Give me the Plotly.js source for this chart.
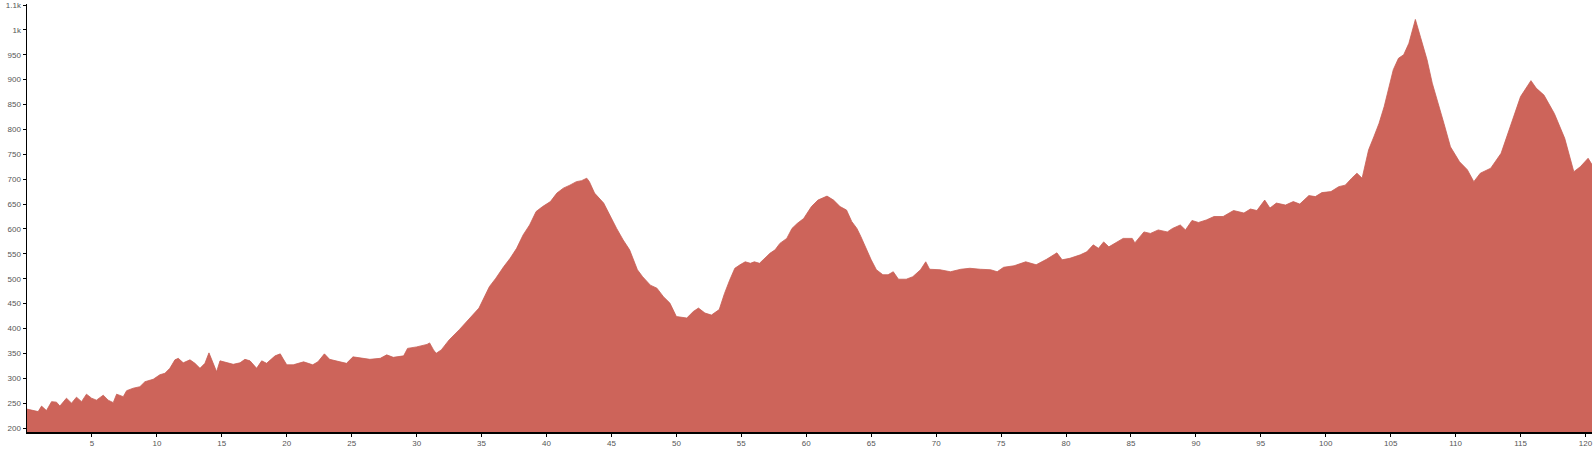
<!DOCTYPE html>
<html>
<head>
<meta charset="utf-8">
<script src="https://cdn.plot.ly/plotly-3.0.1.min.js"></script>
<style>
html,body{margin:0;padding:0;background:#fff;}
#chart{width:1595px;height:449px;}
</style>
</head>
<body>
<div id="chart"></div>
<script>
const distanceKm = [
0.0,0.4,0.86,1.12,1.5,1.89,2.27,2.53,3.04,3.43,3.81,4.2,4.58,4.97,5.35,5.87,6.25,6.64,6.9,7.41,
7.67,8.18,8.69,9.08,9.72,10.23,10.62,11.0,11.39,11.65,12.03,12.55,12.93,13.32,13.7,14.01,14.35,14.6,14.86,15.37,
15.88,16.4,16.78,17.17,17.68,18.07,18.45,19.1,19.5,19.7,20.0,20.5,21.3,22.0,22.4,22.9,23.3,24.1,24.6,25.1,
25.9,26.4,27.2,27.7,28.2,29.0,29.3,30.0,30.8,31.0,31.3,31.5,31.9,32.5,33.3,34.1,34.8,35.6,36.1,36.7,
37.2,37.7,38.2,38.7,39.2,39.7,40.3,40.8,41.3,41.8,42.3,42.7,43.1,43.3,43.7,44.4,44.9,45.4,45.9,46.4,
47.0,47.4,48.0,48.5,49.0,49.5,50.0,50.8,51.3,51.7,52.2,52.7,53.3,53.7,54.1,54.5,54.9,55.3,55.7,56.0,
56.4,56.8,57.2,57.6,57.97,58.5,58.9,59.3,59.8,60.4,60.9,61.6,62.1,62.6,63.1,63.5,63.9,64.2,64.6,65.0,
65.4,65.9,66.3,66.7,67.1,67.7,68.2,68.8,69.2,69.5,70.3,71.1,71.9,72.6,73.4,74.2,74.7,75.2,76.0,76.9,
77.7,78.5,79.3,79.7,80.3,81.1,81.6,82.1,82.5,82.9,83.3,83.9,84.4,85.1,85.3,86.0,86.5,87.1,87.8,88.2,
88.8,89.2,89.7,90.2,90.8,91.4,92.1,92.9,93.7,94.2,94.7,95.3,95.7,96.2,96.9,97.5,98.0,98.7,99.2,99.7,
100.4,101.0,101.5,102.0,102.4,102.8,103.1,103.3,103.7,104.1,104.5,104.8,105.2,105.6,106.0,106.4,106.9,107.3,107.8,108.2,
108.6,109.1,109.6,110.3,110.9,111.4,111.9,112.7,113.5,114.2,115.0,115.8,116.2,116.8,117.6,118.4,119.1,119.6,120.2,120.6
];
const elevationM = [
238,236,233,244,235,253,252,244,260,250,262,253,268,260,256,266,256,251,268,263,
275,280,283,293,298,307,310,320,337,340,331,337,330,320,330,351,327,313,335,331,
328,331,338,335,320,335,330,345,349,340,327,327,333,327,333,349,338,333,330,343,
340,338,340,347,342,345,360,363,368,371,357,350,357,377,398,420,441,484,501,524,
541,561,588,608,635,645,655,672,682,688,695,697,702,695,672,652,625,601,578,558,
518,504,487,481,464,451,424,421,434,441,431,427,438,470,497,521,528,534,531,534,
531,541,551,558,571,581,601,611,621,645,658,666,658,645,638,615,601,585,561,538,
518,508,508,514,499,499,504,518,534,519,518,514,519,521,519,518,514,523,526,534,
528,539,552,538,541,548,554,568,561,574,564,574,581,581,572,594,591,598,594,601,
608,598,617,613,618,625,625,637,632,640,637,658,642,652,648,655,650,667,665,673,
675,685,688,702,712,702,735,759,785,812,846,879,920,943,950,973,1021,985,940,893,
859,812,765,735,719,695,712,722,752,806,866,898,883,869,832,782,715,725,742,725
];
const xTickVals = [5,10,15,20,25,30,35,40,45,50,55,60,65,70,75,80,85,90,95,100,105,110,115,120];
const yTickVals = [200,250,300,350,400,450,500,550,600,650,700,750,800,850,900,950,1000,1050];
const yTickText = ["200","250","300","350","400","450","500","550","600","650","700","750","800","850","900","950","1k","1.1k"];

const trace = {
  x: distanceKm,
  y: elevationM,
  type: 'scatter',
  mode: 'lines',
  fill: 'tozeroy',
  fillcolor: '#cd645a',
  line: {color: '#c75e54', width: 0.8},
  hoverinfo: 'x+y'
};

const layout = {
  width: 1595,
  height: 449,
  margin: {l: 27, r: 3, t: 4, b: 17, pad: 0},
  paper_bgcolor: '#ffffff',
  plot_bgcolor: '#ffffff',
  showlegend: false,
  font: {family: 'Liberation Sans, Arial, sans-serif', size: 8, color: '#555'},
  xaxis: {
    range: [0, 120.5],
    tickvals: xTickVals,
    ticks: 'outside',
    ticklen: 3,
    tickcolor: '#000',
    showline: true,
    linecolor: '#000',
    linewidth: 1.5,
    showgrid: false,
    zeroline: false,
    ticklabeloverflow: 'allow',
    tickfont: {size: 8, color: '#555'}
  },
  yaxis: {
    range: [192, 1052],
    tickvals: yTickVals,
    ticktext: yTickText,
    ticks: 'outside',
    ticklen: 3,
    tickcolor: '#000',
    showline: true,
    linecolor: '#000',
    linewidth: 1.5,
    showgrid: false,
    zeroline: false,
    ticklabeloverflow: 'allow',
    tickfont: {size: 8, color: '#555'}
  }
};

Plotly.newPlot('chart', [trace], layout, {displayModeBar: false, staticPlot: true});
</script>
</body>
</html>
